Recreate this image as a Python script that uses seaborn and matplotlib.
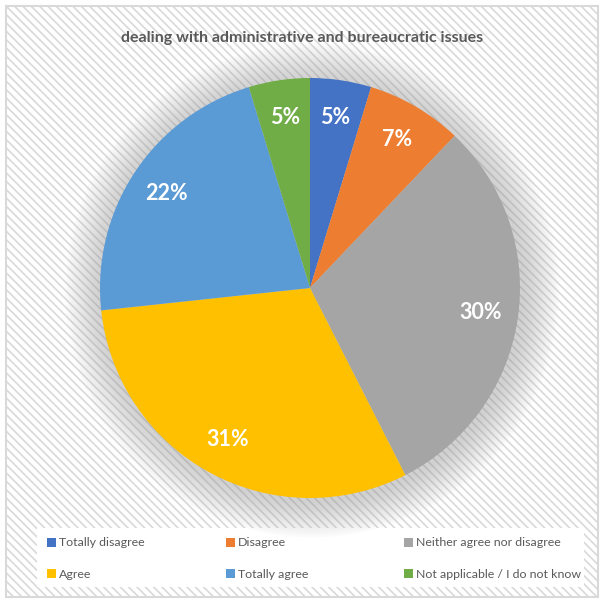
import matplotlib
matplotlib.use("Agg")
import matplotlib.pyplot as plt
import seaborn as sns
from matplotlib.patches import Rectangle, Circle, Patch

categories = ["Totally disagree", "Disagree", "Neither agree nor disagree",
              "Agree", "Totally agree", "Not applicable / I do not know"]
values = [4.7, 7.4, 30.4, 30.8, 22.0, 4.7]
colors = ["#4472C4", "#ED7D31", "#A5A5A5", "#FFC000", "#5B9BD5", "#70AD47"]
title = "dealing with administrative and bureaucratic issues"

sns.set_theme(style="white")
plt.rcParams['font.family'] = ['Lato', 'DejaVu Sans']
plt.rcParams['hatch.linewidth'] = 1.2
plt.rcParams['hatch.color'] = '#f5f5f5'

fig = plt.figure(figsize=(6.05, 6.02), dpi=100)
fig.patch.set_facecolor("white")

W, H = 605, 602
bg = Rectangle((6 / W, 1 - 597 / H), (598 - 6) / W, (597 - 6) / H,
               transform=fig.transFigure, facecolor="white", edgecolor="#d9d9d9",
               hatch="\\\\\\\\", linewidth=1.5, zorder=-5)
fig.patches.append(bg)

# legend background box
lbox = Rectangle((37 / W, 1 - 587 / H), (584 - 37) / W, (587 - 528) / H,
                 transform=fig.transFigure, facecolor="white", edgecolor="none", zorder=-4)
fig.patches.append(lbox)

cx, cy, r = 310, 288, 210
ax = fig.add_axes([(cx - r) / W, (H - cy - r) / H, 2 * r / W, 2 * r / H])
ax.set_zorder(2)
ax.set_facecolor("none")

for i in range(16):
    rad = 1.0 + 0.011 * (16 - i)
    ax.add_patch(Circle((0.01, -0.012), rad, facecolor="#9a9a9a", edgecolor="none",
                        alpha=0.033, zorder=0, clip_on=False))

wedges, texts, autotexts = ax.pie(values, colors=colors, startangle=90, counterclock=False,
                                  autopct="%.0f%%", pctdistance=0.82, radius=1.0,
                                  wedgeprops=dict(linewidth=0, zorder=2),
                                  textprops=dict(color="white", fontsize=15.5, fontweight="bold"))
for w in wedges:
    w.set_clip_on(False)
for t in autotexts:
    t.set_zorder(5)
ax.set_xlim(-1, 1)
ax.set_ylim(-1, 1)
ax.set_aspect("equal")
ax.axis("off")

fig.text(0.5, 1 - 38 / H, title, ha="center", va="center", fontsize=11.5,
         fontweight="bold", color="#595959")

# legend: 3 columns x 2 rows, row-major order like the reference
col_x = [47, 226, 404]
row_y = [543, 574]
for i, (lab, col) in enumerate(zip(categories, colors)):
    cxi = col_x[i % 3]
    ryi = row_y[i // 3]
    leg = fig.legend([Patch(facecolor=col, edgecolor="none")], [lab],
                     loc="center left", bbox_to_anchor=(cxi / W, 1 - ryi / H),
                     frameon=False, fontsize=8.9, labelcolor="#595959",
                     handlelength=0.75, handleheight=0.75, handletextpad=0.25,
                     borderpad=0, borderaxespad=0)
    leg.set_zorder(3)

fig.savefig("out.png", dpi=100)
